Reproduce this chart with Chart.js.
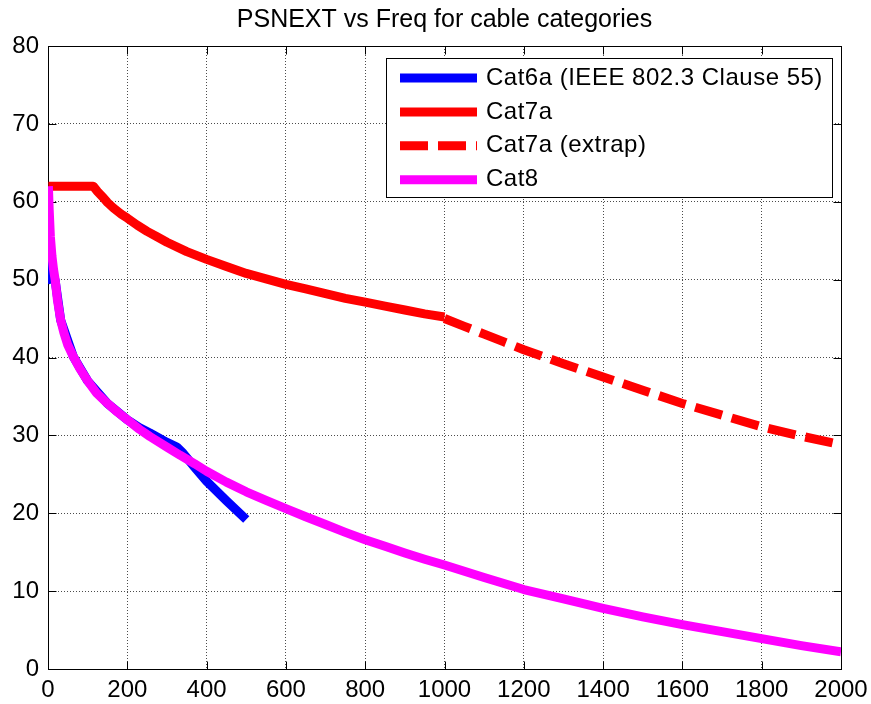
<!DOCTYPE html>
<html>
<head>
<meta charset="utf-8">
<title>PSNEXT vs Freq</title>
<script src="https://cdn.jsdelivr.net/npm/chart.js@4.4.0/dist/chart.umd.min.js"></script>
<style>
  html, body { margin: 0; padding: 0; background: #fff; }
  canvas { display: block; }
</style>
</head>
<body>
<canvas id="psnext" width="871" height="704"></canvas>
<script>
// PSNEXT limits in dB, frequency in MHz
var cat6aFreq   = [1, 4, 10, 18, 32, 64, 100, 150, 200, 230, 257, 300, 325, 341, 370, 400, 450, 500];
var cat6aPsnext = [53, 50, 50.8, 49.9, 44.8, 40.1, 37.0, 34.1, 32.0, 31.0, 30.3, 29.1, 28.5, 27.7, 25.9, 24.1, 21.6, 19.2];

var cat7aFreq   = [1, 114, 125, 140, 150, 165, 185, 200, 225, 250, 275, 300, 350, 400, 450, 500,
                   550, 600, 650, 700, 750, 800, 850, 900, 950, 1000];
var cat7aPsnext = [62, 62, 61.3, 60.5, 59.9, 59.2, 58.4, 57.9, 57.0, 56.2, 55.5, 54.8, 53.6, 52.6, 51.7, 50.8,
                   50.1, 49.4, 48.8, 48.2, 47.6, 47.1, 46.6, 46.1, 45.6, 45.2];

var cat7aExtFreq   = [1000, 1050, 1100, 1150, 1200, 1300, 1400, 1500, 1600, 1700, 1800, 1900, 2000];
var cat7aExtPsnext = [45.0, 44.0, 43.0, 42.0, 41.0, 39.2, 37.5, 35.8, 34.1, 32.6, 31.1, 29.9, 28.8];

var cat8Freq   = [1, 3, 6, 10, 14, 18, 24, 32, 40, 50, 64, 80, 100, 123, 150, 175, 200, 230, 257, 300,
                  333, 370, 400, 450, 500, 550, 600, 650, 700, 750, 800, 850, 900, 950, 1000,
                  1100, 1200, 1300, 1400, 1500, 1600, 1700, 1800, 1900, 2000];
var cat8Psnext = [62, 59, 55.5, 53, 51.3, 50, 47.3, 44.8, 43.2, 41.6, 40.1, 38.6, 37.0, 35.4, 34.1, 33.0, 32.0, 30.8, 29.85, 28.5,
                  27.45, 26.35, 25.4, 24.0, 22.75, 21.65, 20.6, 19.55, 18.55, 17.55, 16.6, 15.75, 14.9, 14.1, 13.35,
                  11.75, 10.2, 9.0, 7.8, 6.7, 5.7, 4.8, 3.9, 3.0, 2.2];

var xTicks = [0, 200, 400, 600, 800, 1000, 1200, 1400, 1600, 1800, 2000];
var yTicks = [0, 10, 20, 30, 40, 50, 60, 70, 80];

var FONT = "'Liberation Sans', Arial, sans-serif";
var LINE_W = 9;

function toPoints(xs, ys) {
    return xs.map(function(x, i) { return { x: x, y: ys[i] }; });
}

// box around the axes plus short inward tick marks on all four sides
var axesBox = {
    id: 'axesBox',
    beforeDatasetsDraw: function(chart) {
        var ctx = chart.ctx, a = chart.chartArea;
        var xs = chart.scales.x, ys = chart.scales.y;
        var L = Math.round(a.left) + 0.5, R = Math.round(a.right) + 0.5;
        var T = Math.round(a.top) + 0.5, B = Math.round(a.bottom) + 0.5;
        ctx.save();
        ctx.strokeStyle = '#000';
        ctx.lineWidth = 1;
        ctx.beginPath();
        xTicks.forEach(function(v) {
            var px = Math.round(xs.getPixelForValue(v)) + 0.5;
            ctx.moveTo(px, B); ctx.lineTo(px, B - 8);
            ctx.moveTo(px, T); ctx.lineTo(px, T + 8);
        });
        yTicks.forEach(function(v) {
            var py = Math.round(ys.getPixelForValue(v)) + 0.5;
            ctx.moveTo(L, py); ctx.lineTo(L + 8, py);
            ctx.moveTo(R, py); ctx.lineTo(R - 8, py);
        });
        ctx.stroke();
        ctx.strokeRect(L, T, R - L, B - T);
        ctx.restore();
    }
};

// legend drawn inside the plot, top right corner
var insideLegend = {
    id: 'insideLegend',
    afterDatasetsDraw: function(chart) {
        var ctx = chart.ctx, a = chart.chartArea;
        var boxW = 446, boxH = 139;
        var x0 = Math.round(a.right - 9 - boxW), y0 = Math.round(a.top + 12);
        ctx.save();
        ctx.fillStyle = '#fff';
        ctx.fillRect(x0, y0, boxW, boxH);
        ctx.strokeStyle = '#000';
        ctx.lineWidth = 1;
        ctx.strokeRect(x0 + 0.5, y0 + 0.5, boxW, boxH);
        ctx.font = '24px ' + FONT;
        ctx.letterSpacing = '0.5px';
        ctx.textBaseline = 'middle';
        chart.data.datasets.forEach(function(ds, i) {
            var cy = y0 + 20 + i * 33.9;
            ctx.strokeStyle = ds.borderColor;
            ctx.lineWidth = LINE_W;
            ctx.lineCap = 'butt';
            ctx.setLineDash(ds.borderDash || []);
            ctx.beginPath();
            ctx.moveTo(x0 + 14, cy);
            ctx.lineTo(x0 + 91, cy);
            ctx.stroke();
            ctx.setLineDash([]);
            ctx.fillStyle = '#000';
            ctx.fillText(ds.label, x0 + 100, cy);
        });
        ctx.restore();
    }
};

var ctx = document.getElementById('psnext').getContext('2d');

var gridOpts = { color: 'rgba(0,0,0,0.7)', lineWidth: 1, drawTicks: false };
var borderOpts = { color: '#000', width: 1, dash: [1, 2] };
var tickFont = { family: FONT, size: 24 };

var myChart = new Chart(ctx, {
    type: 'line',
    data: {
        datasets: [{
            label: 'Cat6a (IEEE 802.3 Clause 55)',
            data: toPoints(cat6aFreq, cat6aPsnext),
            borderColor: '#0000ff',
            order: 4
        }, {
            label: 'Cat7a',
            data: toPoints(cat7aFreq, cat7aPsnext),
            borderColor: '#ff0000',
            order: 3
        }, {
            label: 'Cat7a (extrap)',
            data: toPoints(cat7aExtFreq, cat7aExtPsnext),
            borderColor: '#ff0000',
            borderDash: [28, 10],
            order: 2
        }, {
            label: 'Cat8',
            data: toPoints(cat8Freq, cat8Psnext),
            borderColor: '#ff00ff',
            order: 1
        }]
    },
    options: {
        responsive: false,
        animation: false,
        datasets: { line: { clip: 0 } },
        elements: {
            line: { borderWidth: LINE_W, tension: 0, fill: false, borderCapStyle: 'butt', borderJoinStyle: 'round' },
            point: { radius: 0, hoverRadius: 0 }
        },
        layout: { padding: { top: 0, right: 30, bottom: 0, left: 0 } },
        plugins: {
            legend: { display: false },
            tooltip: { enabled: false },
            title: {
                display: true,
                fullSize: false,
                text: 'PSNEXT vs Freq for cable categories',
                color: '#000',
                font: { family: FONT, size: 25, weight: 'normal' },
                padding: { top: 5, bottom: 11 }
            }
        },
        scales: {
            x: {
                type: 'linear',
                min: 0,
                max: 2000,
                afterBuildTicks: function(s) { s.ticks = xTicks.map(function(v) { return { value: v }; }); },
                afterFit: function(s) { s.height = 35; s.paddingLeft = 0; s.paddingRight = 0; },
                grid: gridOpts,
                border: borderOpts,
                ticks: {
                    color: '#000', font: tickFont, padding: 7, autoSkip: false, maxRotation: 0,
                    callback: function(v) { return String(v); }
                }
            },
            y: {
                min: 0,
                max: 80,
                afterBuildTicks: function(s) { s.ticks = yTicks.map(function(v) { return { value: v }; }); },
                afterFit: function(s) { s.width = 48; },
                grid: gridOpts,
                border: borderOpts,
                ticks: { color: '#000', font: tickFont, padding: 9 }
            }
        }
    },
    plugins: [axesBox, insideLegend]
});
</script>
</body>
</html>
